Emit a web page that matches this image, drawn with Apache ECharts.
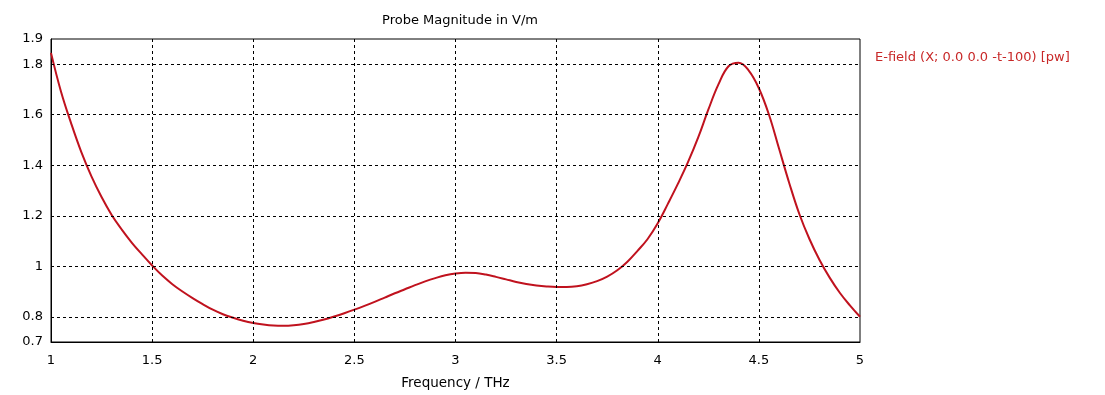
<!DOCTYPE html>
<html>
<head>
<meta charset="utf-8">
<script src="https://cdn.jsdelivr.net/npm/echarts@6/dist/echarts.min.js"></script>
<style>
html,body{margin:0;padding:0;background:#fff;}
#chart{width:1105px;height:395px;}
</style>
</head>
<body>
<div id="chart"></div>
<script>
const chartTitle = 'Probe Magnitude in V/m';
const seriesName = 'E-field (X; 0.0 0.0 -t-100) [pw]';
const xAxisName = 'Frequency / THz';
const frequency = [1.00,1.05,1.10,1.15,1.20,1.25,1.30,1.35,1.40,1.45,1.50,1.55,1.60,1.65,1.70,1.75,1.80,1.85,1.90,1.95,
  2.00,2.05,2.10,2.15,2.20,2.25,2.30,2.35,2.40,2.45,2.50,2.55,2.60,2.65,2.70,2.75,2.80,2.85,2.90,2.95,
  3.00,3.05,3.10,3.15,3.20,3.25,3.30,3.35,3.40,3.45,3.50,3.55,3.60,3.65,3.70,3.75,3.80,3.85,3.90,3.95,
  4.00,4.05,4.10,4.15,4.20,4.25,4.30,4.35,4.40,4.45,4.50,4.55,4.60,4.65,4.70,4.75,4.80,4.85,4.90,4.95,5.00];
const magnitude = [1.845,1.69,1.565,1.452,1.356,1.274,1.203,1.145,1.093,1.047,1.003,0.963,0.929,0.900,0.874,0.850,0.828,0.810,0.796,0.784,
  0.775,0.769,0.765,0.764,0.766,0.771,0.779,0.789,0.801,0.814,0.828,0.843,0.859,0.876,0.893,0.909,0.925,0.940,0.953,0.964,
  0.971,0.974,0.973,0.967,0.958,0.948,0.938,0.930,0.924,0.920,0.918,0.918,0.921,0.929,0.941,0.959,0.984,1.018,1.061,1.108,
  1.170,1.247,1.327,1.413,1.51,1.62,1.72,1.792,1.806,1.775,1.705,1.60,1.465,1.33,1.207,1.108,1.025,0.955,0.895,0.845,0.80];
const yTickLabels = [0.7,0.8,1,1.2,1.4,1.6,1.8,1.9];
const yGridValues = [0.8,1.0,1.2,1.4,1.6,1.8];
const xGridValues = [1.5,2,2.5,3,3.5,4,4.5];

const FONT = 'DejaVu Sans';
const chart = echarts.init(document.getElementById('chart'), null, {renderer:'canvas'});
const gridLines = yGridValues.map(v => ({yAxis: v})).concat(xGridValues.map(v => ({xAxis: v})));
chart.setOption({
  animation: false,
  backgroundColor: '#fff',
  title: {
    text: chartTitle, left: 455, top: 9, textAlign: 'center',
    textStyle: {fontFamily: FONT, fontSize: 13, fontWeight: 'normal', color: '#000'}
  },
  legend: {
    left: 870, top: 46, orient: 'vertical', itemWidth: 0, itemHeight: 0, itemGap: 0,
    data: [{name: seriesName, icon: 'none'}],
    textStyle: {fontFamily: FONT, fontSize: 13, color: '#c82828', padding: [0,0,0,-5]}
  },
  grid: {left: 51, right: 245, top: 39, bottom: 53, show: true, borderColor: '#000', borderWidth: 1, backgroundColor: 'transparent'},
  xAxis: {
    type: 'value', min: 1, max: 5, interval: 0.5,
    name: xAxisName, nameLocation: 'middle', nameGap: 34,
    nameTextStyle: {fontFamily: FONT, fontSize: 13.5, color: '#000'},
    axisLine: {show: true, lineStyle: {color: '#000', width: 1}},
    axisTick: {show: false},
    axisLabel: {fontFamily: FONT, fontSize: 13, color: '#000', margin: 12},
    splitLine: {show: false}
  },
  yAxis: {
    type: 'value', min: 0.7, max: 1.9, interval: 0.1,
    axisLine: {show: true, lineStyle: {color: '#000', width: 1}},
    axisTick: {show: false},
    axisLabel: {
      fontFamily: FONT, fontSize: 13, color: '#000', margin: 8,
      formatter: function (v) {
        const r = Math.round(v * 10) / 10;
        return yTickLabels.some(t => Math.abs(t - r) < 1e-6) ? String(r) : '';
      }
    },
    splitLine: {show: false}
  },
  series: [{
    name: seriesName,
    type: 'line',
    data: frequency.map((f, i) => [f, magnitude[i]]),
    showSymbol: false,
    smooth: 0.4,
    lineStyle: {color: '#c0121e', width: 2},
    itemStyle: {color: '#c0121e'},
    markLine: {
      silent: true, symbol: 'none', animation: false,
      label: {show: false},
      lineStyle: {color: '#000', type: [3, 3], width: 1},
      emphasis: {disabled: true},
      data: gridLines
    },
    z: 3
  }]
});
</script>
</body>
</html>
